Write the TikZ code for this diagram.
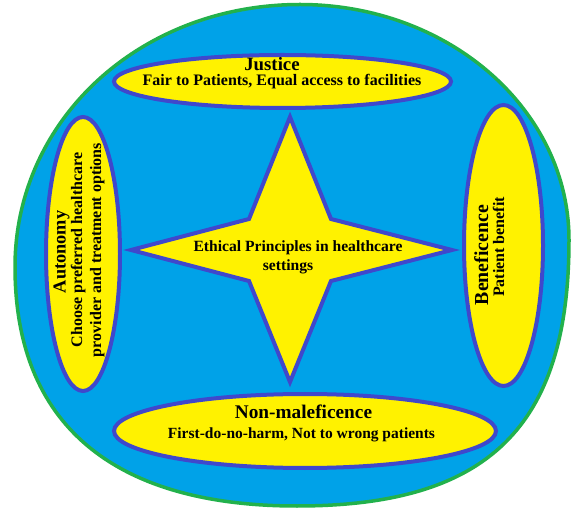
\documentclass[tikz,border=0pt]{standalone}
\usepackage{fontspec}
\setmainfont{Liberation Serif}
\usetikzlibrary{shapes.geometric}
\definecolor{skyfill}{HTML}{00A2E8}
\definecolor{rimgreen}{HTML}{22B14C}
\definecolor{indigoline}{HTML}{3F48CC}
\definecolor{sunfill}{HTML}{FFF200}
\begin{document}
\begin{tikzpicture}[x=1pt,y=-1pt,
  oval/.style={ellipse, draw=indigoline, fill=sunfill, line width=4pt, inner sep=0pt},
  txt/.style={text=black, inner sep=0pt, anchor=base},
  fsz/.style={font=\bfseries\fontsize{#1}{#1}\selectfont}
]
\useasboundingbox (0,0) rectangle (573,510);
% outer shape
\coordinate (rimT) at (300,4.5);
\coordinate (rimR) at (569,240);
\coordinate (rimB) at (297,506);
\coordinate (rimL) at (15,267);
\draw[rimgreen, line width=3.5pt, fill=skyfill]
  (rimT) .. controls (449,4.5) and (569,110) .. (rimR)
  .. controls (569,427) and (488,506) .. (rimB)
  .. controls (113,506) and (15,424) .. (rimL)
  .. controls (15,120) and (140,4.5) .. (rimT) -- cycle;
% star
\draw[draw=indigoline, fill=sunfill, line width=4pt, line join=miter]
  (290,117) -- (331,219) -- (452,250) -- (331,281) -- (290,382) -- (249,281) -- (131,250) -- (249,219) -- cycle;
% ellipses
\node[oval, minimum width=337pt, minimum height=53pt] (justice) at (282.5,81.5) {};
\node[oval, minimum width=74pt, minimum height=274pt] (autonomy) at (83,254) {};
\node[oval, minimum width=79pt, minimum height=281pt] (benef) at (503.5,245.5) {};
\node[oval, minimum width=382pt, minimum height=74pt] (nonmal) at (305,431) {};
% texts
\node[txt, fsz=18.8] (tJ) at (272,70.3) {Justice};
\node[txt, fsz=16] (sJ) at (282,85.2) {Fair to Patients, Equal access to facilities};
\node[txt, fsz=19.3] (tN) at (303.5,418) {Non-maleficence};
\node[txt, fsz=15.5] (sN) at (301.5,438.6) {First-do-no-harm, Not to wrong patients};
\node[txt, fsz=15.6] (tE) at (298,251.7) {Ethical Principles in healthcare};
\node[txt, fsz=15.6] (tS) at (288,270.5) {settings};
\node[txt, fsz=18.3, rotate=90] (tA) at (65.5,252) {Autonomy};
\node[txt, fsz=16, rotate=90] (sA1) at (82,250) {Choose preferred healthcare};
\node[txt, fsz=16, rotate=90] (sA2) at (101,250) {provider and treatment options};
\node[txt, fsz=19.8, rotate=90] (tB) at (488,255) {Beneficence};
\node[txt, fsz=16, rotate=90] (sB) at (504,247) {Patient benefit};
\end{tikzpicture}
\end{document}
